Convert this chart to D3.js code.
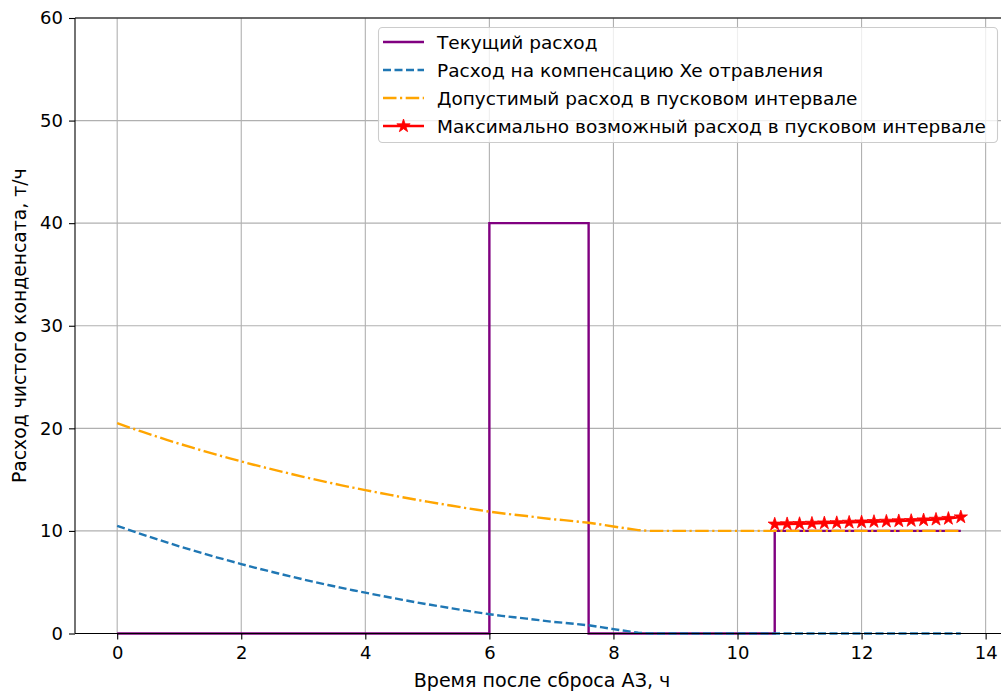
<!DOCTYPE html>
<html><head><meta charset="utf-8">
<script src="https://cdn.jsdelivr.net/npm/d3@7"></script>
<style>body{margin:0;background:#fff}svg{display:block;font-family:"DejaVu Sans",sans-serif}</style>
</head><body><svg id="c" width="1001" height="691"></svg>
<script>
// time, h (step 0.2 h, 0 .. 13.6)
const time = d3.range(0, 69).map(i => +(i * 0.2).toFixed(1));
// current flow, t/h
const currentFlow = time.map(t => (t >= 6 && t < 7.6) ? 40 : (t >= 10.6 ? 10 : 0));
// Xe compensation flow, t/h
const xeFlow = [10.5,10.08,9.67,9.27,8.88,8.50,8.14,7.78,7.43,7.10,6.77,6.45,6.15,5.85,5.56,5.27,5.00,4.73,4.47,4.22,3.98,3.74,3.51,3.28,3.06,2.85,2.65,2.45,2.25,2.06,1.88,1.72,1.58,1.45,1.30,1.15,1.05,0.92,0.80,0.62,0.43,0.25,0.08,0,0,0,0,0,0,0,0,0,0,0,0,0,0,0,0,0,0,0,0,0,0,0,0,0,0];
// allowed flow in start-up interval, t/h
const allowedFlow = [20.5,20.08,19.67,19.27,18.88,18.50,18.14,17.78,17.43,17.10,16.77,16.45,16.15,15.85,15.56,15.27,15.00,14.73,14.47,14.22,13.98,13.74,13.51,13.28,13.06,12.85,12.65,12.45,12.25,12.06,11.88,11.72,11.58,11.45,11.30,11.15,11.05,10.92,10.80,10.62,10.43,10.25,10.08,10,10,10,10,10,10,10,10,10,10,10,10,10,10,10,10,10,10,10,10,10,10,10,10,10,10];
// max possible flow in start-up interval (from 10.6 h)
const maxTime = [10.6,10.8,11.0,11.2,11.4,11.6,11.8,12.0,12.2,12.4,12.6,12.8,13.0,13.2,13.4,13.6];
const maxFlow = [10.65,10.68,10.7,10.73,10.76,10.79,10.83,10.86,10.9,10.93,10.97,11.0,11.06,11.12,11.2,11.35];
const xTicks = [0,2,4,6,8,10,12,14];
const yTicks = [0,10,20,30,40,50,60];
const legendLabels = ["Текущий расход","Расход на компенсацию Xe отравления","Допустимый расход в пусковом интервале","Максимально возможный расход в пусковом интервале"];
const xLabel = "Время после сброса АЗ, ч";
const yLabel = "Расход чистого конденсата, т/ч";

const svg = d3.select("#c");
const L = 75, R = 1003, T = 18, B = 633.5;
const x = d3.scaleLinear().domain([-0.68, 14.28]).range([L, R]);
const y = d3.scaleLinear().domain([0, 60]).range([B, T]);

// grid
const g = svg.append("g");
g.selectAll(".gx").data(xTicks).join("line").attr("x1", d => x(d)).attr("x2", d => x(d)).attr("y1", T).attr("y2", B).attr("stroke", "#b0b0b0").attr("stroke-width", 1.1);
g.selectAll(".gy").data(yTicks).join("line").attr("y1", d => y(d)).attr("y2", d => y(d)).attr("x1", L).attr("x2", R).attr("stroke", "#b0b0b0").attr("stroke-width", 1.1);

svg.append("clipPath").attr("id", "cp").append("rect").attr("x", L).attr("y", T - 8).attr("width", R - L).attr("height", B - T + 16);
const plot = svg.append("g").attr("clip-path", "url(#cp)");

const lw = 2.4;
const lineStep = d3.line().x((d, i) => x(time[i])).y(d => y(d)).curve(d3.curveStepAfter);
const lineLin = d3.line().x((d, i) => x(time[i])).y(d => y(d));
plot.append("path").attr("d", lineStep(currentFlow)).attr("fill", "none").attr("stroke", "#800080").attr("stroke-width", lw);
plot.append("path").attr("d", lineLin(xeFlow)).attr("fill", "none").attr("stroke", "#1f77b4").attr("stroke-width", lw).attr("stroke-dasharray", "8,3.5");
plot.append("path").attr("d", lineLin(allowedFlow)).attr("fill", "none").attr("stroke", "#ffa500").attr("stroke-width", lw).attr("stroke-dasharray", "13.5,3.5,2.2,3.5");
const lineMax = d3.line().x((d, i) => x(maxTime[i])).y(d => y(d));
plot.append("path").attr("d", lineMax(maxFlow)).attr("fill", "none").attr("stroke", "#ff0000").attr("stroke-width", lw);
const star = d3.symbol().type(d3.symbolStar).size(55);
plot.selectAll(".st").data(maxFlow).join("path").attr("d", star).attr("transform", (d, i) => `translate(${x(maxTime[i])},${y(d)})`).attr("fill", "#ff0000").attr("stroke", "#ff0000").attr("stroke-width", 0.8);

// spines
[[L, L, T, B], [L, R, B, B], [L, R, T, T], [R, R, T, B]].forEach(s =>
  svg.append("line").attr("x1", s[0]).attr("x2", s[1]).attr("y1", s[2]).attr("y2", s[3]).attr("stroke", "#000").attr("stroke-width", 1.1));

// axes
const xa = svg.append("g").attr("transform", `translate(0,${B})`).call(d3.axisBottom(x).tickValues(xTicks).tickSize(6).tickPadding(7).tickFormat(d3.format("d")));
const ya = svg.append("g").attr("transform", `translate(${L},0)`).call(d3.axisLeft(y).tickValues(yTicks).tickSize(6).tickPadding(6).tickFormat(d3.format("d")));
[xa, ya].forEach(a => {
  a.select(".domain").remove();
  a.selectAll("line").attr("stroke", "#000").attr("stroke-width", 1.1);
  a.selectAll("text").attr("font-size", 18).attr("fill", "#000").attr("font-family", "DejaVu Sans");
});
svg.append("text").attr("x", (L + R) / 2 + 3).attr("y", 687).attr("text-anchor", "middle").attr("font-size", 19.1).text(xLabel);
svg.append("text").attr("transform", `translate(26,${(T + B) / 2}) rotate(-90)`).attr("text-anchor", "middle").attr("font-size", 18.8).text(yLabel);

// legend
const lg = svg.append("g");
lg.append("rect").attr("x", 378.5).attr("y", 27.5).attr("width", 619).attr("height", 115).attr("rx", 4).attr("fill", "#fff").attr("fill-opacity", 0.8).attr("stroke", "#cccccc").attr("stroke-width", 1.1);
const styles = [
  {c: "#800080", d: null},
  {c: "#1f77b4", d: "8,3.5"},
  {c: "#ffa500", d: "13.5,3.5,2.2,3.5"},
  {c: "#ff0000", d: null, m: true}
];
legendLabels.forEach((lab, i) => {
  const yy = 42 + i * 28;
  lg.append("line").attr("x1", 383).attr("x2", 424).attr("y1", yy).attr("y2", yy).attr("stroke", styles[i].c).attr("stroke-width", lw).attr("stroke-dasharray", styles[i].d);
  if (styles[i].m) lg.append("path").attr("d", star).attr("transform", `translate(403.5,${yy})`).attr("fill", "#ff0000").attr("stroke", "#ff0000").attr("stroke-width", 0.8);
  lg.append("text").attr("x", 437).attr("y", yy).attr("dy", "0.36em").attr("font-size", 18.5).text(lab);
});
</script></body></html>
